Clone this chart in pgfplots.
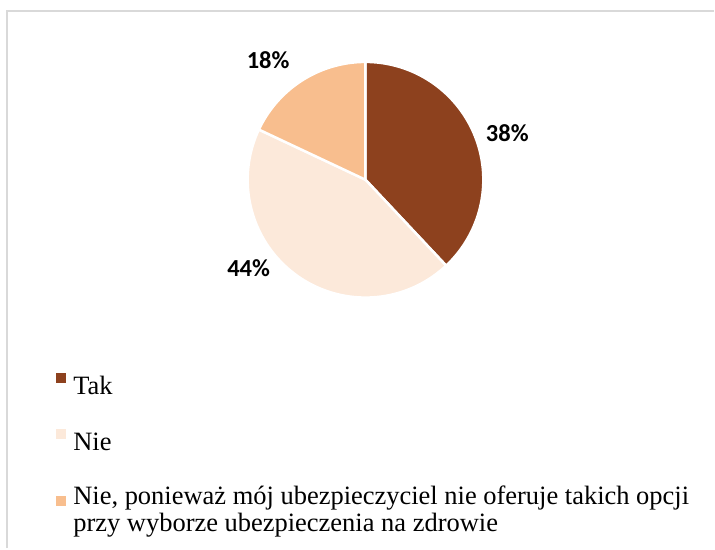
\documentclass[border=0pt]{standalone}
\usepackage{pgfplots}
\pgfplotsset{compat=1.18}
\usepackage{fontspec}
\setmainfont{Liberation Serif}
\newfontfamily\carlito{Carlito}
\definecolor{cTak}{RGB}{141,65,30}
\definecolor{cNie}{RGB}{252,233,218}
\definecolor{cNiep}{RGB}{248,190,142}
\definecolor{cFrame}{RGB}{217,217,217}
% data (percent)
\def\vTak{38}
\def\vNie{44}
\def\vNiep{18}
\pgfmathsetmacro\aA{90}
\pgfmathsetmacro\aB{90-3.6*\vTak}
\pgfmathsetmacro\aC{\aB-3.6*\vNie}
\pgfmathsetmacro\aD{\aC-3.6*\vNiep}
\begin{document}
\begin{tikzpicture}
\begin{axis}[width=715pt,height=549pt,scale only axis,
  xmin=0,xmax=715,ymin=0,ymax=549,hide axis,clip=false,
  legend image code/.code={\path (0pt,0pt); \fill[#1,draw=none] (0pt,3pt) rectangle (10pt,13pt);},
  legend style={draw=none,fill=none,at={(axis cs:55,176)},anchor=north west,
    font=\fontsize{26.5}{27.5}\selectfont,row sep=33pt,inner sep=0pt,
    cells={anchor=base west},nodes={inner sep=0pt,align=left},column sep=7pt},
  legend cell align=left]
\path (0,0) rectangle (715,549);
\draw[cFrame,line width=2pt] (7,0) -- (7,538) -- (715,538);
\addplot[fill=cTak,draw=white,line width=2.5pt,domain=\aB:\aA,samples=120]
  ({366+118*cos(x)},{369+118*sin(x)}) -- (366,369) -- cycle;
\addplot[fill=cNie,draw=white,line width=2.5pt,domain=\aC:\aB,samples=120]
  ({366+118*cos(x)},{369+118*sin(x)}) -- (366,369) -- cycle;
\addplot[fill=cNiep,draw=white,line width=2.5pt,domain=\aD:\aC,samples=120]
  ({366+118*cos(x)},{369+118*sin(x)}) -- (366,369) -- cycle;
\node[font=\carlito\bfseries\fontsize{24.5}{26}\selectfont] at (508,415.5) {\vTak\%};
\node[font=\carlito\bfseries\fontsize{24.5}{26}\selectfont] at (249,280) {\vNie\%};
\node[font=\carlito\bfseries\fontsize{24.5}{26}\selectfont] at (268.5,488.5) {\vNiep\%};
\legend{\strut Tak,\strut Nie,{\strut Nie, ponieważ mój ubezpieczyciel nie oferuje takich opcji\\przy wyborze ubezpieczenia na zdrowie\strut}}
\end{axis}
\end{tikzpicture}
\end{document}
